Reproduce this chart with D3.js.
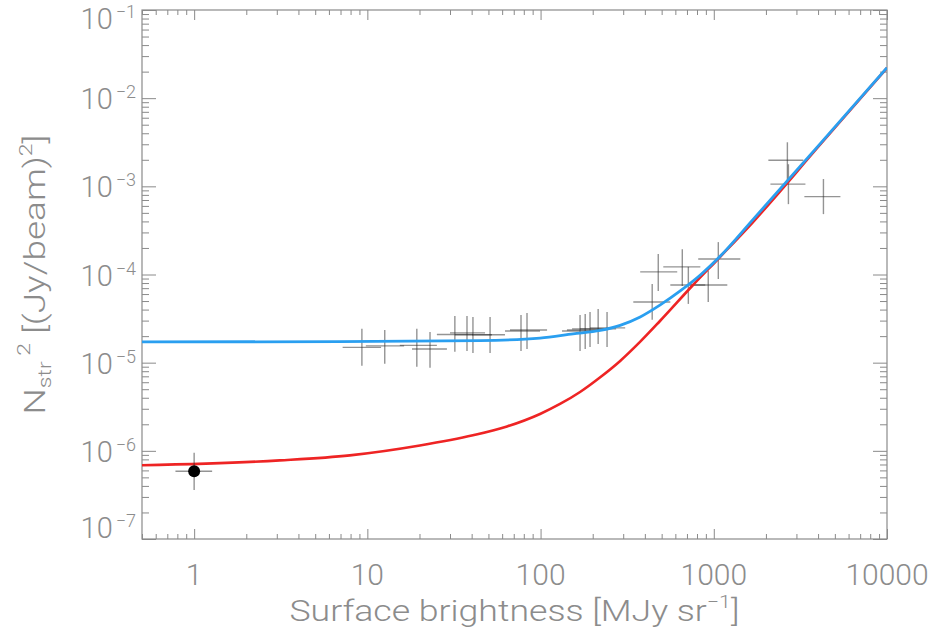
<!DOCTYPE html>
<html>
<head>
<meta charset="utf-8">
<script src="https://cdn.jsdelivr.net/npm/d3@7"></script>
<style>
  body { margin: 0; background: #fff; }
  text { font-family: Roboto, "DejaVu Sans", sans-serif; font-weight: 300; fill: #8c8c8c; }
</style>
</head>
<body>
<svg width="937" height="633"></svg>
<script>
// measured points: surface brightness (MJy/sr) with x-range, noise^2 with y-range
const surfBright = [9.3, 12.6, 19.3, 23.0, 32.0, 37.6, 40.7, 51.1, 77.1, 83.5, 169, 181, 193, 215, 242, 441, 478, 658, 713, 929, 1062, 2660, 2697, 4296];
const surfLo     = [7.2, 9.8, 15.4, 18.1, 25.2, 30.0, 32.0, 40.2, 62.3, 66.6, 133, 142, 152, 169, 193, 343, 376, 511, 561, 731, 813, 2066, 2123, 3334];
const surfHi     = [12.0, 16.3, 25.2, 28.8, 40.7, 47.8, 52.4, 62.3, 99.3, 109, 215, 230, 246, 273, 308, 561, 615, 836, 893, 1197, 1423, 3289, 3381, 5383];
const noiseSq    = [1.49e-5, 1.55e-5, 1.57e-5, 1.43e-5, 2.09e-5, 2.18e-5, 2.07e-5, 2.07e-5, 2.29e-5, 2.35e-5, 2.29e-5, 2.35e-5, 2.42e-5, 2.42e-5, 2.48e-5, 4.88e-5, 1.07e-4, 1.22e-4, 7.61e-5, 7.61e-5, 1.50e-4, 1.98e-3, 1.06e-3, 7.64e-4];
const noiseLo    = [9.2e-6, 9.7e-6, 8.97e-6, 8.74e-6, 1.33e-5, 1.36e-5, 1.29e-5, 1.29e-5, 1.36e-5, 1.43e-5, 1.36e-5, 1.43e-5, 1.51e-5, 1.63e-5, 1.51e-5, 3.06e-5, 6.51e-5, 7.41e-5, 4.64e-5, 4.88e-5, 8.89e-5, 1.15e-3, 6.28e-4, 4.84e-4];
const noiseHi    = [2.42e-5, 2.35e-5, 2.42e-5, 2.23e-5, 3.39e-5, 3.39e-5, 3.30e-5, 3.30e-5, 3.48e-5, 3.66e-5, 3.48e-5, 3.57e-5, 3.76e-5, 4.07e-5, 3.76e-5, 7.81e-5, 1.71e-4, 1.94e-4, 1.22e-4, 1.10e-4, 2.33e-4, 3.16e-3, 1.78e-3, 1.21e-3];

// the single filled point
const dotS = [1], dotSLo = [0.78], dotSHi = [1.27];
const dotN = [5.86e-7], dotNLo = [3.6e-7], dotNHi = [9.5e-7];

// model curves
const blueS = [0.5, 6.93, 44.7, 99.3, 154, 221, 288, 376, 491, 640, 836, 1091, 1692, 4130, 10000];
const blueN = [1.72e-5, 1.73e-5, 1.78e-5, 1.90e-5, 2.12e-5, 2.32e-5, 2.65e-5, 3.30e-5, 4.52e-5, 6.51e-5, 9.87e-5, 1.62e-4, 4.25e-4, 3.07e-3, 2.22e-2];
const redS  = [0.5, 3.12, 7.92, 20.1, 40.7, 64.0, 99.3, 129.5, 169, 220, 287, 375, 489, 759, 1086, 1685, 4130, 10000];
const redN  = [6.85e-7, 7.80e-7, 8.89e-7, 1.15e-6, 1.50e-6, 1.89e-6, 2.62e-6, 3.40e-6, 4.65e-6, 6.79e-6, 1.04e-5, 1.72e-5, 2.97e-5, 7.60e-5, 1.58e-4, 3.94e-4, 3.00e-3, 2.20e-2];

const xTickVals = [1, 10, 100, 1000, 10000];
const yTickExp  = [-7, -6, -5, -4, -3, -2, -1];

const plotLeft = 142, plotTop = 10, plotRight = 887, plotBottom = 539;
const plotW = plotRight - plotLeft, plotH = plotBottom - plotTop;
const axisColor = "#8a8a8a";

var svg = d3.select("svg");
svg.append("rect").attr("width", 937).attr("height", 633).attr("fill", "#fff");

var g = svg.append("g").attr("transform", "translate(" + plotLeft + "," + plotTop + ")");

var x = d3.scaleLog().domain([0.5, 1e4]).range([0, plotW]);
var y = d3.scaleLog().domain([1e-7, 1e-1]).range([plotH, 0]);

function isMajor(v) { var e = Math.log10(v); return Math.abs(e - Math.round(e)) < 1e-9; }
var xMinor = x.ticks().filter(v => !isMajor(v));
var yMinor = y.ticks().filter(v => !isMajor(v));
var yMajor = yTickExp.map(e => Math.pow(10, e));

// ticks on all four sides, pointing inward
function ticks(axisFn, scale, vals, size, transform) {
    g.append("g")
     .attr("transform", transform)
     .call(axisFn(scale).tickValues(vals).tickSize(size).tickFormat(""))
     .call(a => a.select(".domain").remove())
     .selectAll("line").attr("stroke", axisColor).attr("stroke-width", 1);
}
ticks(d3.axisBottom, x, xTickVals, -10, "translate(0," + plotH + ")");
ticks(d3.axisBottom, x, xMinor, -5, "translate(0," + plotH + ")");
ticks(d3.axisTop, x, xTickVals, -10, "translate(0,0)");
ticks(d3.axisTop, x, xMinor, -5, "translate(0,0)");
ticks(d3.axisLeft, y, yMajor, -14, "translate(0,0)");
ticks(d3.axisLeft, y, yMinor, -7, "translate(0,0)");
ticks(d3.axisRight, y, yMajor, -14, "translate(" + plotW + ",0)");
ticks(d3.axisRight, y, yMinor, -7, "translate(" + plotW + ",0)");

g.append("rect")
 .attr("width", plotW).attr("height", plotH)
 .attr("fill", "none").attr("stroke", axisColor).attr("stroke-width", 1.2);

// tick labels
g.selectAll(".xlab")
 .data(xTickVals)
 .enter().append("text")
 .attr("class", "xlab")
 .attr("x", d => x(d))
 .attr("y", plotH + 46)
 .attr("text-anchor", "middle")
 .style("font-size", "30px")
 .text(d => d3.format("d")(d));

// end labels are kept inside the frame height, as in the original
function yLabelShift(e) { return e === -1 ? 8 : (e === -7 ? -12 : 0); }

var ylab = g.selectAll(".ylab")
 .data(yTickExp)
 .enter().append("text")
 .attr("class", "ylab")
 .attr("x", -6)
 .attr("y", d => y(Math.pow(10, d)) + 11 + yLabelShift(d))
 .attr("text-anchor", "end")
 .style("font-size", "29px");
ylab.append("tspan").text("10");
ylab.append("tspan").attr("dx", 3).attr("dy", -11).style("font-size", "18px").text(d => "\u2212" + (-d));

// axis titles
var xt = svg.append("text")
 .attr("x", plotLeft + plotW / 2)
 .attr("y", 621)
 .attr("text-anchor", "middle")
 .attr("textLength", 450)
 .attr("lengthAdjust", "spacingAndGlyphs")
 .style("font-size", "30px");
xt.append("tspan").text("Surface brightness [MJy sr");
xt.append("tspan").attr("dy", -13).style("font-size", "18px").text("\u22121");
xt.append("tspan").attr("dy", 13).text("]");

var yt = svg.append("text")
 .attr("transform", "translate(45," + (plotTop + plotH / 2) + ") rotate(-90)")
 .attr("text-anchor", "middle")
 .attr("textLength", 280)
 .attr("lengthAdjust", "spacingAndGlyphs")
 .style("font-size", "29px");
yt.append("tspan").text("N");
yt.append("tspan").attr("dy", 6).style("font-size", "18px").text("str");
yt.append("tspan").attr("dy", -21).style("font-size", "18px").text(" 2");
yt.append("tspan").attr("dy", 15).text("  [(Jy/beam)");
yt.append("tspan").attr("dy", -13).style("font-size", "18px").text("2");
yt.append("tspan").attr("dy", 13).text("]");

// clip for marks
g.append("clipPath").attr("id", "plotclip")
 .append("rect").attr("width", plotW).attr("height", plotH);
var marks = g.append("g").attr("clip-path", "url(#plotclip)");

// error crosses
var idx = d3.range(surfBright.length);
var cross = marks.append("g")
 .attr("stroke", "#2a2a2a")
 .attr("stroke-opacity", 0.5)
 .attr("stroke-width", 1.4);
cross.selectAll(".hbar")
 .data(idx)
 .enter().append("line")
 .attr("class", "hbar")
 .attr("x1", i => x(surfLo[i])).attr("x2", i => x(surfHi[i]))
 .attr("y1", i => y(noiseSq[i])).attr("y2", i => y(noiseSq[i]));
cross.selectAll(".vbar")
 .data(idx)
 .enter().append("line")
 .attr("class", "vbar")
 .attr("x1", i => x(surfBright[i])).attr("x2", i => x(surfBright[i]))
 .attr("y1", i => y(noiseLo[i])).attr("y2", i => y(noiseHi[i]));

// curves
var line = d3.line()
 .x(d => x(d[0]))
 .y(d => y(d[1]))
 .curve(d3.curveMonotoneX);

marks.append("path")
 .datum(d3.zip(redS, redN))
 .attr("fill", "none")
 .attr("stroke", "#ee2424")
 .attr("stroke-width", 2.6)
 .attr("d", line);

marks.append("path")
 .datum(d3.zip(blueS, blueN))
 .attr("fill", "none")
 .attr("stroke", "#2a9ff0")
 .attr("stroke-width", 2.8)
 .attr("d", line);

// filled point with its error cross
var dotIdx = d3.range(dotS.length);
marks.selectAll(".dotx")
 .data(dotIdx)
 .enter().append("line")
 .attr("class", "dotx")
 .attr("stroke", "#2a2a2a").attr("stroke-opacity", 0.5).attr("stroke-width", 1.4)
 .attr("x1", i => x(dotSLo[i])).attr("x2", i => x(dotSHi[i]))
 .attr("y1", i => y(dotN[i])).attr("y2", i => y(dotN[i]));
marks.selectAll(".doty")
 .data(dotIdx)
 .enter().append("line")
 .attr("class", "doty")
 .attr("stroke", "#2a2a2a").attr("stroke-opacity", 0.5).attr("stroke-width", 1.4)
 .attr("x1", i => x(dotS[i])).attr("x2", i => x(dotS[i]))
 .attr("y1", i => y(dotNLo[i])).attr("y2", i => y(dotNHi[i]));
marks.selectAll("circle")
 .data(dotIdx)
 .enter().append("circle")
 .attr("cx", i => x(dotS[i]))
 .attr("cy", i => y(dotN[i]))
 .attr("r", 6)
 .attr("fill", "#000");
</script>
</body>
</html>
